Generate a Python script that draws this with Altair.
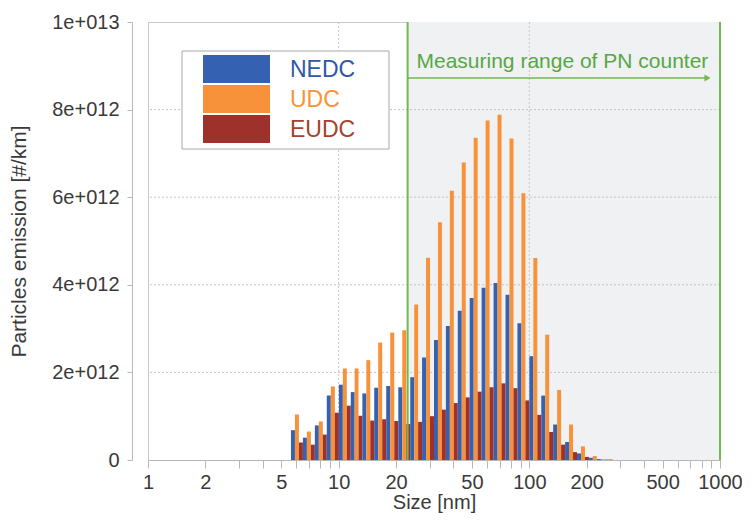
import altair as alt
import pandas as pd
import numpy as np

# Channel mid diameters [nm]
sizes = [6.04, 6.98, 8.06, 9.31, 10.8, 12.4, 14.3, 16.5, 19.1, 22.1, 25.5, 29.4, 34.0,
         39.2, 45.3, 52.3, 60.4, 69.8, 80.6, 93.1, 107.5, 124.1, 143.3, 165.5, 191.1,
         220.7, 254.8]
# emissions in units of 1e12 #/km
nedc = [0.68, 0.51, 0.79, 1.47, 1.72, 1.55, 1.52, 1.65, 1.69, 1.66, 1.89, 2.34, 2.74,
        3.06, 3.41, 3.70, 3.93, 4.04, 3.77, 3.12, 2.37, 1.47, 0.81, 0.41, 0.15, 0.05, 0.01]
udc = [1.04, 0.65, 0.88, 1.68, 2.09, 2.09, 2.28, 2.68, 2.91, 2.96, 3.55, 4.62, 5.43,
       6.15, 6.79, 7.36, 7.75, 7.88, 7.34, 6.09, 4.61, 2.86, 1.60, 0.81, 0.31, 0.09, 0.02]
eudc = [0.40, 0.35, 0.58, 1.08, 1.24, 1.01, 0.90, 0.93, 0.89, 0.82, 0.87, 1.00, 1.15,
        1.30, 1.43, 1.56, 1.66, 1.75, 1.64, 1.36, 1.03, 0.64, 0.35, 0.18, 0.07, 0.02, 0.01]

series_names = ["NEDC", "UDC", "EUDC"]
series_colors = ["#3461b1", "#f7923a", "#9e3129"]
label_colors = ["#2f58a8", "#f79433", "#a8412e"]

range_start = 23
range_end = 1000
x_ticks = [1, 2, 3, 4, 5, 6, 7, 8, 9, 10, 20, 30, 40, 50, 60, 70, 80, 90,
           100, 200, 300, 400, 500, 600, 700, 800, 900, 1000]
x_labels = [1, 2, 5, 10, 20, 50, 100, 200, 500, 1000]
x_grid = [10, 100]
y_ticks = [0, 2e12, 4e12, 6e12, 8e12, 1e13]
y_grid = [2e12, 4e12, 6e12, 8e12]

# Build bar table: each channel's log-width split into three side-by-side bars
logm = np.log10(sizes)
step = np.diff(logm).mean()
edges = np.concatenate([[logm[0] - step / 2], (logm[:-1] + logm[1:]) / 2, [logm[-1] + step / 2]])
rows = []
for k in range(len(sizes)):
    lo, hi = edges[k], edges[k + 1]
    w = (hi - lo) / 3
    for i, (name, vals) in enumerate(zip(series_names, [nedc, udc, eudc])):
        rows.append({"series": name, "size": sizes[k],
                     "x0": 10 ** (lo + i * w), "x1": 10 ** (lo + (i + 1) * w),
                     "value": vals[k] * 1e12})
bars_df = pd.DataFrame(rows)

FONT = "Liberation Sans"
GREEN = "#72b94f"
GREEN_TXT = "#55a844"

xscale = alt.Scale(type="log", domain=[1, 1000], nice=False)
yscale = alt.Scale(domain=[0, 1e13], nice=False)

label_expr = ("indexof([" + ",".join(str(v) for v in x_labels) + "], datum.value) >= 0 ? "
              "format(datum.value, 'd') : ''")
y_label_expr = ("datum.value == 0 ? '0' : (datum.value >= 1e13 ? '1e+013' : "
                "format(datum.value / 1e12, 'd') + 'e+012')")

shade = alt.Chart(pd.DataFrame({"a": [range_start], "b": [range_end], "y0": [0], "y1": [1e13]})).mark_rect(
    color="#eff1f3").encode(
    x=alt.X("a:Q", scale=xscale,
            axis=alt.Axis(values=x_ticks, labelExpr=label_expr, title="Size [nm]", grid=False,
                          labelOverlap=False, labelFlush=False, tickSize=8, labelPadding=4,
                          titlePadding=0, domainColor="#b8b8b8", tickColor="#b8b8b8",
                          labelFont=FONT, titleFont=FONT, labelFontSize=20, titleFontSize=20,
                          labelColor="#3a3a3a", titleColor="#3a3a3a", titleFontWeight="normal")),
    x2="b:Q",
    y=alt.Y("y0:Q", scale=yscale,
            axis=alt.Axis(values=y_ticks, labelExpr=y_label_expr, title="Particles emission [#/km]",
                          grid=False, offset=16, tickSize=5, labelPadding=8, titlePadding=22,
                          domainColor="#b8b8b8", tickColor="#b8b8b8",
                          labelFont=FONT, titleFont=FONT, labelFontSize=20, titleFontSize=21,
                          labelColor="#3a3a3a", titleColor="#3a3a3a", titleFontWeight="normal")),
    y2="y1:Q",
)

xgrid = alt.Chart(pd.DataFrame({"x": x_grid})).mark_rule(
    color="#c4c4c4", strokeDash=[2, 2], strokeWidth=1).encode(x=alt.X("x:Q", scale=xscale))
ygrid = alt.Chart(pd.DataFrame({"y": y_grid})).mark_rule(
    color="#c4c4c4", strokeDash=[2, 2], strokeWidth=1).encode(y=alt.Y("y:Q", scale=yscale))

bars = alt.Chart(bars_df).mark_rect().encode(
    x=alt.X("x0:Q", scale=xscale),
    x2="x1:Q",
    y=alt.Y("value:Q", scale=yscale),
    y2=alt.datum(0),
    color=alt.Color("series:N", scale=alt.Scale(domain=series_names, range=series_colors), legend=None),
)

green_lines = alt.Chart(pd.DataFrame({"x": [range_start, range_end]})).mark_rule(
    color=GREEN, strokeWidth=2).encode(x=alt.X("x:Q", scale=xscale))

arrow_df = pd.DataFrame({"x0": [range_start], "x1": [850], "y": [8.72e12]})
arrow = alt.Chart(arrow_df).mark_rule(color=GREEN, strokeWidth=1.5).encode(
    x=alt.X("x0:Q", scale=xscale), x2="x1:Q", y=alt.Y("y:Q", scale=yscale))
arrow_head = alt.Chart(pd.DataFrame({"x": [860], "y": [8.72e12]})).mark_point(
    shape="triangle-right", filled=True, color=GREEN, size=50, opacity=1).encode(
    x=alt.X("x:Q", scale=xscale), y=alt.Y("y:Q", scale=yscale))
range_text = alt.Chart(pd.DataFrame({"x": [25.6], "y": [8.95e12], "t": ["Measuring range of PN counter"]})).mark_text(
    align="left", baseline="alphabetic", font=FONT, fontSize=21, color=GREEN_TXT).encode(
    x=alt.X("x:Q", scale=xscale), y=alt.Y("y:Q", scale=yscale), text="t:N")

# Legend (drawn manually)
legend_layers = [
    alt.Chart(pd.DataFrame({"a": [0]})).mark_rect(fill="white", stroke="#a8a8a8", strokeWidth=1).encode(
        x=alt.value(34), x2=alt.value(241), y=alt.value(29), y2=alt.value(127))
]
for i, (name, col, lcol) in enumerate(zip(series_names, series_colors, label_colors)):
    legend_layers.append(
        alt.Chart(pd.DataFrame({"a": [0]})).mark_rect(fill=col).encode(
            x=alt.value(55), x2=alt.value(122), y=alt.value(33 + 30 * i), y2=alt.value(61 + 30 * i)))
    legend_layers.append(
        alt.Chart(pd.DataFrame({"t": [name]})).mark_text(
            align="left", baseline="middle", font=FONT, fontSize=23, color=lcol).encode(
            x=alt.value(142), y=alt.value(48 + 30 * i), text="t:N"))

chart = alt.layer(shade, xgrid, ygrid, bars, green_lines, arrow, arrow_head, range_text,
                  *legend_layers).properties(
    width=572, height=438,
    padding={"left": 140, "top": 14, "right": 22, "bottom": 56},
    autosize=alt.AutoSizeParams(type="none"),
    background="white",
).configure_view(stroke="#c8c8c8", strokeWidth=1)

chart.save("out.html", embed_options={"renderer": "svg", "actions": False})
